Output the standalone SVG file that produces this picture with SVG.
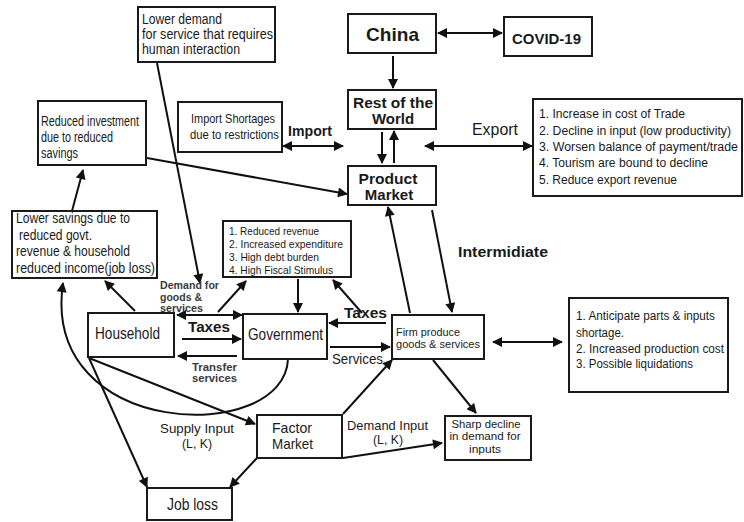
<svg xmlns="http://www.w3.org/2000/svg" width="744" height="522" viewBox="0 0 744 522">
<style>
.box{fill:#fff;stroke:#1a1a1a;stroke-width:2}
.c{fill:none;stroke:#111;stroke-width:2}
text{font-family:"Liberation Sans Narrow","Liberation Sans",Arial,sans-serif;fill:#1a1a1a}
.b{font-weight:bold}
.g{fill:#3a3a3a;font-weight:bold}
</style>
<defs>
<marker id="ah" viewBox="0 0 10 10" refX="9" refY="5" markerWidth="11" markerHeight="10" markerUnits="userSpaceOnUse" orient="auto-start-reverse">
<path d="M0,0 L10,5 L0,10 z" fill="#111"/>
</marker>
</defs>

<g id="connectors">
<line class="c" x1="438" y1="33" x2="502" y2="33" marker-start="url(#ah)" marker-end="url(#ah)"/>
<line class="c" x1="393" y1="56" x2="393" y2="88" marker-end="url(#ah)"/>
<line class="c" x1="382" y1="132" x2="382" y2="163" marker-end="url(#ah)"/>
<line class="c" x1="394" y1="163" x2="394" y2="131" marker-end="url(#ah)"/>
<line class="c" x1="283" y1="146" x2="343" y2="146" marker-start="url(#ah)" marker-end="url(#ah)"/>
<line class="c" x1="425" y1="146" x2="532" y2="146" marker-start="url(#ah)" marker-end="url(#ah)"/>
<line class="c" x1="147" y1="158" x2="347" y2="194" marker-end="url(#ah)"/>
<line class="c" x1="157" y1="63" x2="200" y2="283" marker-end="url(#ah)"/>
<line class="c" x1="72" y1="211" x2="83" y2="170" marker-end="url(#ah)"/>
<line class="c" x1="135" y1="311" x2="105" y2="281" marker-end="url(#ah)"/>
<line class="c" x1="177" y1="315" x2="242" y2="315" marker-start="url(#ah)" marker-end="url(#ah)"/>
<line class="c" x1="218" y1="312" x2="246" y2="281" marker-end="url(#ah)"/>
<line class="c" x1="182" y1="339" x2="241" y2="339" marker-end="url(#ah)"/>
<line class="c" x1="237" y1="356" x2="178" y2="356" marker-end="url(#ah)"/>
<line class="c" x1="298" y1="279" x2="298" y2="312" marker-end="url(#ah)"/>
<line class="c" x1="362" y1="313" x2="333" y2="280" marker-end="url(#ah)"/>
<line class="c" x1="386" y1="323" x2="329" y2="323" marker-end="url(#ah)"/>
<line class="c" x1="330" y1="347" x2="390" y2="347" marker-end="url(#ah)"/>
<line class="c" x1="410" y1="313" x2="388" y2="207" marker-end="url(#ah)"/>
<line class="c" x1="432" y1="210" x2="452" y2="312" marker-end="url(#ah)"/>
<line class="c" x1="493" y1="342" x2="562" y2="342" marker-start="url(#ah)" marker-end="url(#ah)"/>
<line class="c" x1="433" y1="360" x2="476" y2="413" marker-end="url(#ah)"/>
<line class="c" x1="343" y1="414" x2="392" y2="360" marker-end="url(#ah)"/>
<line class="c" x1="343" y1="458" x2="442" y2="443" marker-end="url(#ah)"/>
<line class="c" x1="257" y1="458" x2="230" y2="487" marker-end="url(#ah)"/>
<line class="c" x1="89" y1="358" x2="147" y2="487" marker-end="url(#ah)"/>
<line class="c" x1="89" y1="358" x2="255" y2="424" marker-end="url(#ah)"/>
<path class="c" d="M288,359 C285,445 40,440 63,283" marker-end="url(#ah)"/>
</g>

<g id="lower-demand">
<rect class="box" x="138" y="7" width="137" height="55"/>
<text x="142" y="24" font-size="14" textLength="80" lengthAdjust="spacingAndGlyphs">Lower demand</text>
<text x="142" y="39" font-size="14" textLength="131" lengthAdjust="spacingAndGlyphs">for service that requires</text>
<text x="142" y="54" font-size="14" textLength="98" lengthAdjust="spacingAndGlyphs">human interaction</text>
</g>

<g id="reduced-investment">
<rect class="box" x="38" y="101" width="108" height="64"/>
<text x="41" y="126" font-size="14" textLength="98" lengthAdjust="spacingAndGlyphs">Reduced investment</text>
<text x="41" y="142" font-size="14" textLength="72" lengthAdjust="spacingAndGlyphs">due to reduced</text>
<text x="41" y="158" font-size="14" textLength="37" lengthAdjust="spacingAndGlyphs">savings</text>
</g>

<g id="import-shortages">
<rect class="box" x="178" y="102" width="104" height="50"/>
<text x="191" y="123" font-size="13" textLength="84" lengthAdjust="spacingAndGlyphs">Import Shortages</text>
<text x="190" y="139" font-size="13" textLength="89" lengthAdjust="spacingAndGlyphs">due to restrictions</text>
</g>

<g id="china">
<rect class="box" x="348" y="14" width="88" height="39"/>
<text x="366" y="41" font-size="19" class="b" textLength="53" lengthAdjust="spacingAndGlyphs">China</text>
</g>

<g id="covid">
<rect class="box" x="504" y="17" width="88" height="39"/>
<text x="512" y="44" font-size="15.5" class="b" textLength="69" lengthAdjust="spacingAndGlyphs">COVID-19</text>
</g>

<g id="rest-of-world">
<rect class="box" x="348" y="90" width="88" height="39"/>
<text x="393" y="108" font-size="15" class="b" text-anchor="middle" textLength="80" lengthAdjust="spacingAndGlyphs">Rest of the</text>
<text x="393" y="124" font-size="15" class="b" text-anchor="middle">World</text>
</g>

<g id="product-market">
<rect class="box" x="348" y="166" width="88" height="39"/>
<text x="388" y="184" font-size="15" class="b" text-anchor="middle" textLength="59" lengthAdjust="spacingAndGlyphs">Product</text>
<text x="389" y="200" font-size="15" class="b" text-anchor="middle">Market</text>
</g>

<g id="export-effects">
<rect class="box" x="533" y="99" width="209" height="97"/>
<text x="539" y="118" font-size="12" textLength="146" lengthAdjust="spacingAndGlyphs">1. Increase in cost of Trade</text>
<text x="539" y="134.5" font-size="12" textLength="192" lengthAdjust="spacingAndGlyphs">2. Decline in input (low productivity)</text>
<text x="539" y="151" font-size="12" textLength="199" lengthAdjust="spacingAndGlyphs">3. Worsen balance of payment/trade</text>
<text x="539" y="167" font-size="12" textLength="169" lengthAdjust="spacingAndGlyphs">4. Tourism are bound to decline</text>
<text x="539" y="183.5" font-size="12" textLength="138" lengthAdjust="spacingAndGlyphs">5. Reduce export revenue</text>
</g>

<g id="lower-savings">
<rect class="box" x="12" y="211" width="145" height="67"/>
<text x="16" y="223" font-size="14" textLength="114" lengthAdjust="spacingAndGlyphs">Lower savings due to</text>
<text x="19" y="240" font-size="14" textLength="73" lengthAdjust="spacingAndGlyphs">reduced govt.</text>
<text x="16" y="256" font-size="14" textLength="114" lengthAdjust="spacingAndGlyphs">revenue &amp; household</text>
<text x="16" y="273" font-size="14" textLength="139" lengthAdjust="spacingAndGlyphs">reduced income(job loss)</text>
</g>

<g id="gov-issues">
<rect class="box" x="223" y="221" width="128" height="56"/>
<text x="229" y="235" font-size="11" textLength="90" lengthAdjust="spacingAndGlyphs">1. Reduced revenue</text>
<text x="229" y="248" font-size="11" textLength="114" lengthAdjust="spacingAndGlyphs">2. Increased expenditure</text>
<text x="229" y="261" font-size="11" textLength="90" lengthAdjust="spacingAndGlyphs">3. High debt burden</text>
<text x="229" y="274" font-size="11" textLength="104" lengthAdjust="spacingAndGlyphs">4. High Fiscal Stimulus</text>
</g>

<g id="household">
<rect class="box" x="88" y="313" width="86" height="44"/>
<text x="95" y="339" font-size="17" textLength="65" lengthAdjust="spacingAndGlyphs">Household</text>
</g>

<g id="government">
<rect class="box" x="243" y="314" width="84" height="45"/>
<text x="248" y="340" font-size="17" textLength="75" lengthAdjust="spacingAndGlyphs">Government</text>
</g>

<g id="firm">
<rect class="box" x="392" y="315" width="92" height="44"/>
<text x="396" y="336" font-size="11.5" textLength="64" lengthAdjust="spacingAndGlyphs">Firm produce</text>
<text x="396" y="348" font-size="11.5" textLength="84" lengthAdjust="spacingAndGlyphs">goods &amp; services</text>
</g>

<g id="firm-effects">
<rect class="box" x="569" y="298" width="159" height="94"/>
<text x="576" y="320" font-size="12" textLength="139" lengthAdjust="spacingAndGlyphs">1. Anticipate parts &amp; inputs</text>
<text x="576" y="337" font-size="12" textLength="48" lengthAdjust="spacingAndGlyphs">shortage.</text>
<text x="576" y="353" font-size="12" textLength="148" lengthAdjust="spacingAndGlyphs">2. Increased production cost</text>
<text x="576" y="368" font-size="12" textLength="117" lengthAdjust="spacingAndGlyphs">3. Possible liquidations</text>
</g>

<g id="sharp-decline">
<rect class="box" x="445" y="416" width="86" height="44"/>
<text x="486" y="427.5" font-size="11.5" text-anchor="middle" textLength="69" lengthAdjust="spacingAndGlyphs">Sharp decline</text>
<text x="485" y="440" font-size="11.5" text-anchor="middle" textLength="71" lengthAdjust="spacingAndGlyphs">in demand for</text>
<text x="485" y="453" font-size="11.5" text-anchor="middle" textLength="32" lengthAdjust="spacingAndGlyphs">inputs</text>
</g>

<g id="factor-market">
<rect class="box" x="257" y="415" width="85" height="43"/>
<text x="272" y="433" font-size="15" textLength="40" lengthAdjust="spacingAndGlyphs">Factor</text>
<text x="272" y="449" font-size="15" textLength="41" lengthAdjust="spacingAndGlyphs">Market</text>
</g>

<g id="job-loss">
<rect class="box" x="147" y="488" width="85" height="32"/>
<text x="167" y="510" font-size="16" textLength="51" lengthAdjust="spacingAndGlyphs">Job loss</text>
</g>

<g id="labels">
<text x="288" y="136" font-size="15" class="b" textLength="44" lengthAdjust="spacingAndGlyphs">Import</text>
<text x="472" y="135" font-size="16" textLength="46" lengthAdjust="spacingAndGlyphs">Export</text>
<text x="458" y="257" font-size="14" class="b" textLength="90" lengthAdjust="spacingAndGlyphs">Intermidiate</text>
<text x="160" y="289" font-size="10" class="g" textLength="59" lengthAdjust="spacingAndGlyphs">Demand for</text>
<text x="160" y="300.5" font-size="10" class="g" textLength="42" lengthAdjust="spacingAndGlyphs">goods &amp;</text>
<text x="160" y="312" font-size="10" class="g" textLength="43" lengthAdjust="spacingAndGlyphs">services</text>
<text x="188" y="332" font-size="14.5" class="b" textLength="42" lengthAdjust="spacingAndGlyphs">Taxes</text>
<text x="344" y="318" font-size="14.5" class="b" textLength="43" lengthAdjust="spacingAndGlyphs">Taxes</text>
<text x="192" y="370.5" font-size="10.5" class="g" textLength="45" lengthAdjust="spacingAndGlyphs">Transfer</text>
<text x="192" y="382" font-size="10.5" class="g" textLength="45" lengthAdjust="spacingAndGlyphs">services</text>
<text x="332" y="364" font-size="14" textLength="51" lengthAdjust="spacingAndGlyphs">Services</text>
<text x="160" y="433" font-size="13.5" textLength="74" lengthAdjust="spacingAndGlyphs">Supply Input</text>
<text x="182" y="448" font-size="13.5" textLength="30" lengthAdjust="spacingAndGlyphs">(L, K)</text>
<text x="347" y="430" font-size="13" textLength="81" lengthAdjust="spacingAndGlyphs">Demand Input</text>
<text x="373" y="444" font-size="13" textLength="30" lengthAdjust="spacingAndGlyphs">(L, K)</text>
</g>
</svg>
